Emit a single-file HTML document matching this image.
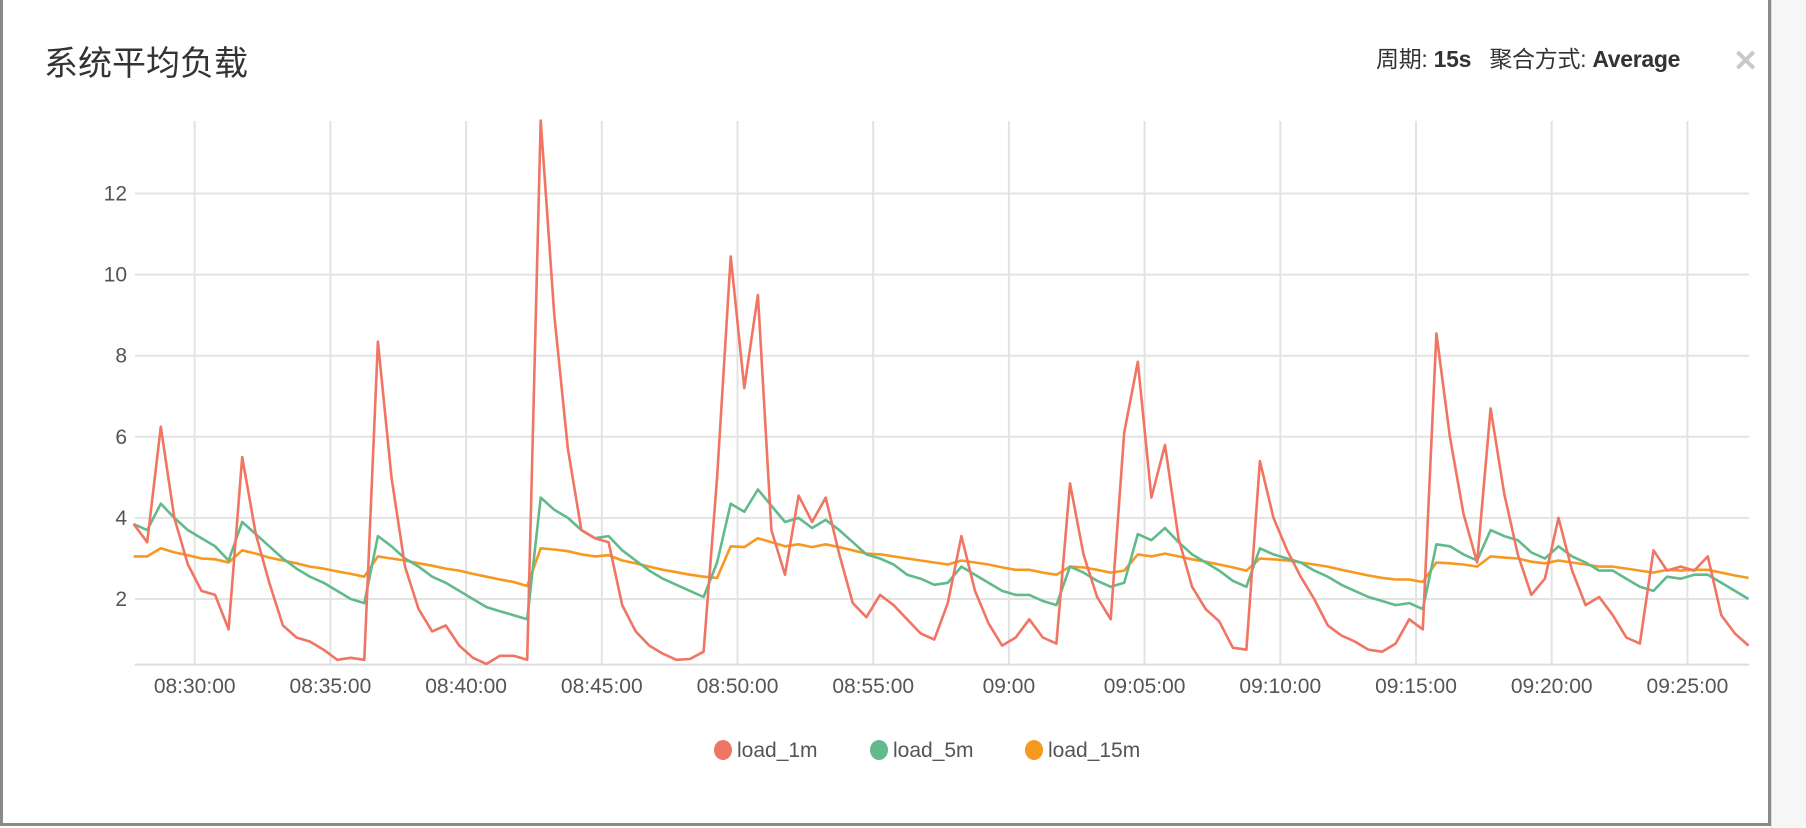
<!DOCTYPE html>
<html><head><meta charset="utf-8">
<style>
html,body{margin:0;padding:0;background:#fff;}
body{width:1806px;height:828px;overflow:hidden;position:relative;font-family:"Liberation Sans","Noto Sans CJK SC",sans-serif;}
#frame{position:absolute;left:0;top:0;width:1765px;height:823px;border-left:3px solid #8a8a8a;border-right:3px solid #8a8a8a;border-bottom:3px solid #8a8a8a;box-sizing:content-box;background:#fff;}
#outside{position:absolute;left:1771px;top:0;width:35px;height:828px;background:#f6f6f6;border-left:1px solid #ddd;}
#title{position:absolute;left:44px;top:36px;font-size:34px;color:#333;font-weight:normal;}
#meta{position:absolute;left:1376px;top:40px;font-size:23px;color:#333;white-space:nowrap;letter-spacing:-0.3px;}
#meta b{font-weight:bold;}
#close{position:absolute;left:1733px;top:44px;font-size:30px;color:#c8c8c8;font-weight:bold;}
svg{position:absolute;left:0;top:0;}
</style></head>
<body>
<div id="outside"></div>
<div id="frame"></div>
<div id="title">系统平均负载</div>
<div id="meta">周期: <b>15s</b>&nbsp;&nbsp;&nbsp;聚合方式: <b>Average</b></div>
<div id="close">✕</div>
<svg id="chart" width="1806" height="828"></svg>
<script>
const yTicks = [2,4,6,8,10,12];
const xTickLabels = ["08:30:00","08:35:00","08:40:00","08:45:00","08:50:00","08:55:00","09:00","09:05:00","09:10:00","09:15:00","09:20:00","09:25:00"];
const xTickMinutes = [0,5,10,15,20,25,30,35,40,45,50,55];
const seriesNames = ["load_1m","load_5m","load_15m"];
const load1m = [
3.85,3.4,6.25,4.0,2.85,2.2,2.1,1.25,5.5,3.6,
2.4,1.35,1.05,0.95,0.75,0.5,0.55,0.5,8.35,5.0,
2.8,1.75,1.2,1.35,0.85,0.55,0.4,0.6,0.6,0.5,
13.8,9.0,5.7,3.7,3.5,3.4,1.85,1.2,0.85,0.65,
0.5,0.52,0.7,5.0,10.45,7.2,9.5,3.7,2.6,4.55,
3.9,4.5,3.1,1.9,1.55,2.1,1.85,1.5,1.15,1.0,
1.9,3.55,2.2,1.4,0.85,1.05,1.5,1.05,0.9,4.85,
3.1,2.05,1.5,6.1,7.85,4.5,5.8,3.5,2.3,1.75,
1.45,0.8,0.75,5.4,4.0,3.2,2.55,2.0,1.35,1.1,
0.95,0.75,0.7,0.9,1.5,1.25,8.55,6.0,4.1,2.9,
6.7,4.6,3.1,2.1,2.5,4.0,2.7,1.85,2.05,1.6,
1.05,0.9,3.2,2.7,2.8,2.7,3.05,1.6,1.15,0.85];
const load5m = [
3.85,3.7,4.35,4.0,3.7,3.5,3.3,2.95,3.9,3.6,
3.3,3.0,2.75,2.55,2.4,2.2,2.0,1.9,3.55,3.3,
3.0,2.8,2.55,2.4,2.2,2.0,1.8,1.7,1.6,1.5,
4.5,4.2,4.0,3.7,3.5,3.55,3.2,2.95,2.7,2.5,
2.35,2.2,2.05,2.9,4.35,4.15,4.7,4.3,3.9,4.0,
3.75,3.95,3.7,3.4,3.1,3.0,2.85,2.6,2.5,2.35,
2.4,2.8,2.6,2.4,2.2,2.1,2.1,1.95,1.85,2.8,
2.65,2.45,2.3,2.4,3.6,3.45,3.75,3.4,3.1,2.9,
2.7,2.45,2.3,3.25,3.1,3.0,2.9,2.7,2.55,2.35,
2.2,2.05,1.95,1.85,1.9,1.75,3.35,3.3,3.1,2.95,
3.7,3.55,3.45,3.15,3.0,3.3,3.05,2.9,2.7,2.7,
2.5,2.3,2.2,2.55,2.5,2.6,2.6,2.4,2.2,2.0];
const load15m = [
3.05,3.05,3.25,3.15,3.08,3.0,2.98,2.9,3.2,3.12,
3.02,2.95,2.88,2.8,2.75,2.68,2.62,2.55,3.05,3.0,
2.95,2.88,2.82,2.75,2.7,2.62,2.55,2.48,2.42,2.32,
3.25,3.22,3.18,3.1,3.05,3.08,2.95,2.88,2.8,2.72,
2.66,2.6,2.55,2.52,3.3,3.28,3.5,3.4,3.3,3.35,
3.28,3.35,3.28,3.2,3.12,3.1,3.05,3.0,2.95,2.9,
2.85,2.95,2.9,2.85,2.78,2.72,2.72,2.65,2.6,2.8,
2.78,2.72,2.65,2.7,3.1,3.05,3.12,3.05,2.98,2.92,
2.85,2.78,2.7,3.0,2.98,2.95,2.9,2.85,2.8,2.72,
2.65,2.58,2.52,2.48,2.48,2.42,2.9,2.88,2.85,2.8,
3.05,3.02,3.0,2.92,2.88,2.95,2.9,2.85,2.8,2.8,
2.75,2.7,2.65,2.72,2.7,2.72,2.72,2.65,2.58,2.52];
const startMinute = -2.25;
const stepMinute = 0.5;

const NS = "http://www.w3.org/2000/svg";
const svg = document.getElementById("chart");
const plotL = 134.8, plotR = 1749, plotT = 121, plotB = 664.6;
function xScale(min){ return 194.7 + 27.14 * min; }
function yScale(v){ return 599 - (v - 2) * 40.55; }
function mk(tag, attrs){ const e = document.createElementNS(NS, tag); for (const k in attrs) e.setAttribute(k, attrs[k]); svg.appendChild(e); return e; }

yTicks.forEach(v => {
  const g = mk("line", {x1:plotL, x2:plotR, y1:yScale(v), y2:yScale(v), stroke:"#e3e3e3", "stroke-width":2});
  
  
  const t = mk("text", {x:127, y:yScale(v)+7, "text-anchor":"end", "font-size":21, fill:"#555", "font-family":"Liberation Sans, sans-serif"});
  t.textContent = v;
  
  
});
xTickMinutes.forEach((m, i) => {
  const g = mk("line", {x1:xScale(m), x2:xScale(m), y1:plotT, y2:plotB, stroke:"#e3e3e3", "stroke-width":2});
  
  
  const t = mk("text", {x:xScale(m), y:693, "text-anchor":"middle", "font-size":21, fill:"#555", "font-family":"Liberation Sans, sans-serif"});
  t.textContent = xTickLabels[i];
  
  
});
const axis = mk("line", {x1:plotL, x2:plotR, y1:plotB, y2:plotB, stroke:"#dcdcdc", "stroke-width":2});



const colors = ["#f07563","#62ba8c","#f7981f"];
const allSeries = [load1m, load5m, load15m];
[2,1,0].forEach(si => {
  const pts = allSeries[si].map((v, i) => xScale(startMinute + i*stepMinute).toFixed(1) + "," + yScale(v).toFixed(1)).join(" ");
  const p = mk("polyline", {points:pts, fill:"none", stroke:colors[si], "stroke-width":2.6, "stroke-linejoin":"round"});
  
  
});

const legendX = [723, 879, 1034];
seriesNames.forEach((n, i) => {
  const c = mk("ellipse", {cx:legendX[i], cy:750, rx:9, ry:10, fill:colors[i]});
  
  
  const t = mk("text", {x:legendX[i]+14, y:757, "font-size":21, fill:"#555", "font-family":"Liberation Sans, sans-serif"});
  t.textContent = n;
  
  
});
</script>
</body></html>
